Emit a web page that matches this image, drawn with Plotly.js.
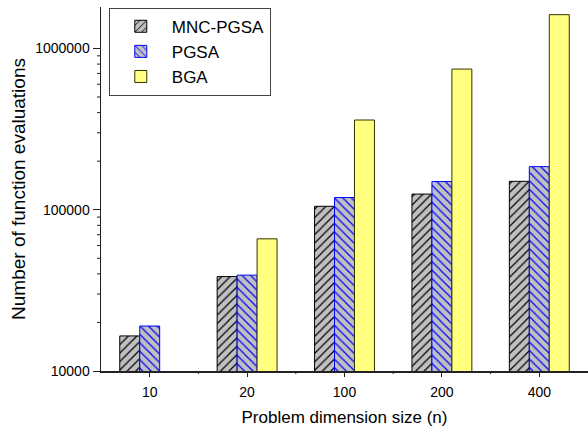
<!DOCTYPE html>
<html>
<head>
<meta charset="utf-8">
<script src="https://cdn.plot.ly/plotly-3.0.1.min.js"></script>
<style>html,body{margin:0;padding:0;background:#fff;}</style>
</head>
<body>
<div id="chart" style="width:588px;height:427px;"></div>
<script>
const categories = ['10', '20', '100', '200', '400'];
const mncPgsa = [16500, 38500, 105000, 125000, 150000];
const pgsa = [19000, 39300, 119000, 149500, 185000];
const bga = [null, 66000, 360000, 745000, 1620000];
const yMajorTicks = [10000, 100000, 1000000];
const yMajorLabels = ['10000', '100000', '1000000'];
const yMinorTicks = [20000, 30000, 40000, 50000, 60000, 70000, 80000, 90000,
                     200000, 300000, 400000, 500000, 600000, 700000, 800000, 900000];

const FONT = 'Liberation Sans, Arial, sans-serif';
const PLOT_W = 588 - 101 - 0;
const PLOT_H = 427 - 7 - 56;
const AXIS_COLOR = '#222222';

const traces = [
  {
    type: 'bar', name: 'MNC-PGSA', x: categories, y: mncPgsa,
    marker: {
      color: '#c0c0c0',
      line: {color: '#000000', width: 1},
      pattern: {shape: '/', fillmode: 'replace', bgcolor: '#c0c0c0', fgcolor: '#000000', size: 6, solidity: 0.2}
    }
  },
  {
    type: 'bar', name: 'PGSA', x: categories, y: pgsa,
    marker: {
      color: '#c0c0c0',
      line: {color: '#0000ff', width: 1},
      pattern: {shape: '\\', fillmode: 'replace', bgcolor: '#c0c0c0', fgcolor: '#0000ff', size: 6, solidity: 0.2}
    }
  },
  {
    type: 'bar', name: 'BGA', x: categories, y: bga,
    marker: {color: '#ffff80', line: {color: '#333300', width: 1}}
  }
];

// minor tick marks: y at the 2..9 values of each decade, x at category boundaries
const shapes = [];
yMinorTicks.forEach(v => {
  shapes.push({type: 'line', xref: 'paper', yref: 'y', x0: -4 / PLOT_W, x1: 0, y0: v, y1: v,
               line: {color: AXIS_COLOR, width: 1}, layer: 'above'});
});
categories.slice(1).forEach((c, i) => {
  const b = i + 0.5;
  shapes.push({type: 'line', xref: 'x', yref: 'paper', x0: b, x1: b, y0: 0, y1: -3 / PLOT_H,
               line: {color: AXIS_COLOR, width: 1}, layer: 'above'});
});

const layout = {
  width: 588, height: 427,
  margin: {l: 101, r: 0, t: 7, b: 56},
  paper_bgcolor: '#ffffff', plot_bgcolor: '#ffffff',
  font: {family: FONT, size: 14, color: '#000000'},
  barmode: 'group', bargap: 0.385, bargroupgap: 0,
  showlegend: true,
  legend: {
    x: 0.016, y: 0.998, xanchor: 'left', yanchor: 'top',
    bgcolor: '#ffffff', bordercolor: '#444444', borderwidth: 1,
    font: {family: FONT, size: 17, color: '#000000'},
    traceorder: 'normal', itemwidth: 52, tracegroupgap: 0
  },
  shapes: shapes,
  xaxis: {
    type: 'category', range: [-0.5, 4.5],
    showline: true, linecolor: AXIS_COLOR, linewidth: 1.5,
    ticks: 'outside', ticklen: 4, tickcolor: AXIS_COLOR, tickwidth: 1,
    ticklabelstandoff: 4,
    showgrid: false, zeroline: false, automargin: false,
    tickfont: {family: FONT, size: 14},
    title: {text: 'Problem dimension size (n)', font: {family: FONT, size: 17}, standoff: 12}
  },
  yaxis: {
    type: 'log', range: [4, 6.257],
    showline: true, linecolor: AXIS_COLOR, linewidth: 1.5,
    ticks: 'outside', ticklen: 7, tickcolor: AXIS_COLOR, tickwidth: 1,
    tickmode: 'array', tickvals: yMajorTicks, ticktext: yMajorLabels,
    showgrid: false, zeroline: false, automargin: false,
    tickfont: {family: FONT, size: 14},
    title: {text: 'Number of function evaluations', font: {family: FONT, size: 19}, standoff: 4}
  }
};

Plotly.newPlot('chart', traces, layout, {staticPlot: true, displayModeBar: false});
</script>
</body>
</html>
